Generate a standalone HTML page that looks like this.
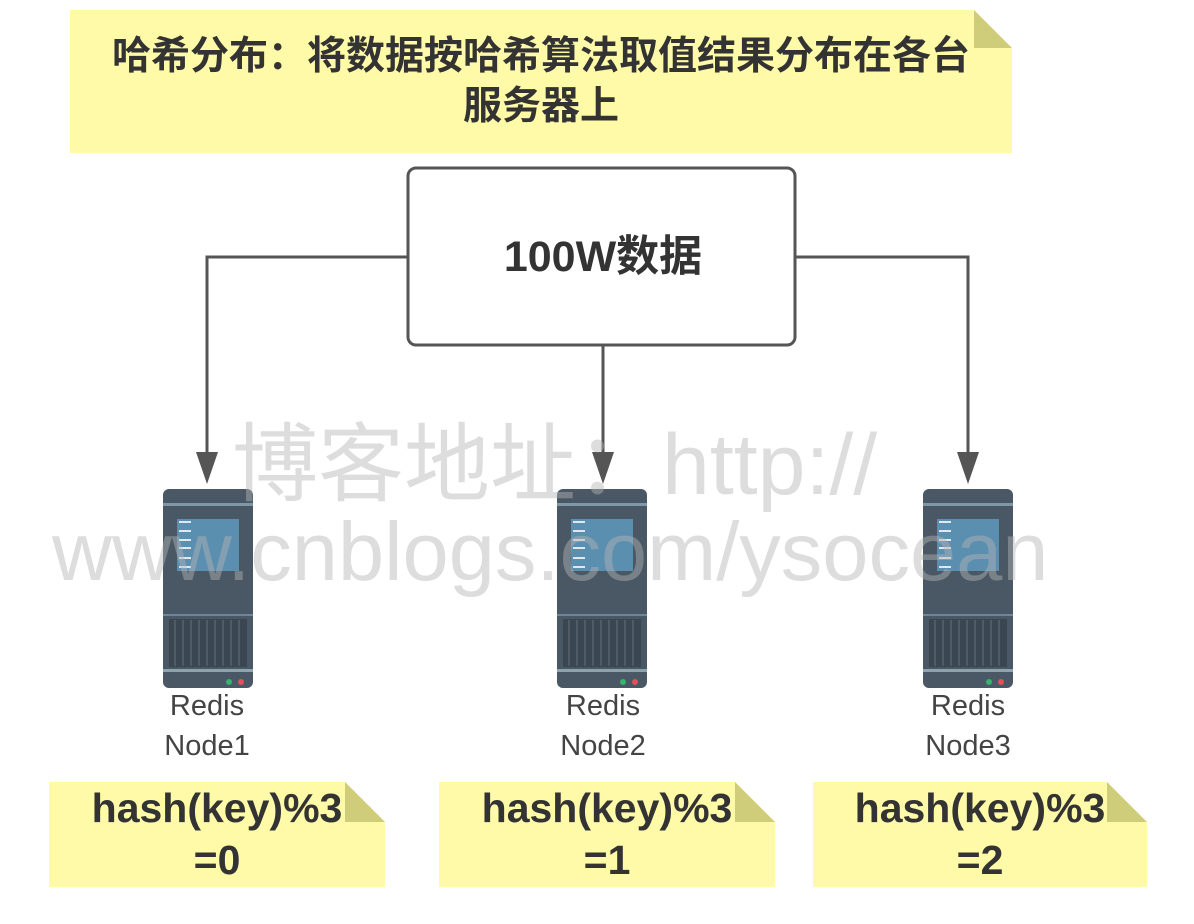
<!DOCTYPE html>
<html><head><meta charset="utf-8"><style>
body{margin:0;width:1194px;height:924px;background:#fff;overflow:hidden;position:relative;font-family:"Liberation Sans","Noto Sans CJK SC",sans-serif}
.t{position:absolute;text-align:center;color:#333}
</style></head><body>
<svg width="1194" height="924" style="position:absolute;left:0;top:0">
<defs>
<g id="srv">
<rect x="0" y="0" width="90" height="199" rx="6" fill="#4a5866"/>
<rect x="0" y="14" width="90" height="3" fill="#7f97a6"/>
<rect x="14" y="30" width="62" height="52" fill="#5b8fb0"/>
<g fill="#dfe8ee"><rect x="16" y="32" width="12" height="2"/><rect x="16" y="41" width="12" height="2"/><rect x="16" y="50" width="12" height="2"/><rect x="16" y="58" width="12" height="2"/><rect x="16" y="68" width="12" height="2"/><rect x="16" y="77" width="12" height="2"/></g>
<rect x="0" y="125" width="90" height="2" fill="#6a8899"/>
<g fill="#3a4650"><rect x="6" y="130" width="78" height="48"/></g>
<g stroke="#56646f" stroke-width="1.5"><path d="M12,131V177M20,131V177M28,131V177M36,131V177M44,131V177M52,131V177M60,131V177M68,131V177M76,131V177"/></g>
<rect x="0" y="180" width="90" height="3" fill="#8fa3ae"/>
<circle cx="66" cy="193" r="3" fill="#37b36b"/><circle cx="78" cy="193" r="3" fill="#e0505a"/>
</g>
</defs>
<path d="M70,10 H974 L1012,48 V153 H70 Z" fill="#fffaa8"/>
<path d="M974,10 L1012,48 H974 Z" fill="#cfcc7a"/>
<g>
<path d="M49,782 H345 L385,822 V887 H49 Z" fill="#fffaa8"/><path d="M345,782 L385,822 H345 Z" fill="#cfcc7a"/>
<path d="M439,782 H735 L775,822 V887 H439 Z" fill="#fffaa8"/><path d="M735,782 L775,822 H735 Z" fill="#cfcc7a"/>
<path d="M813,782 H1107 L1147,822 V887 H813 Z" fill="#fffaa8"/><path d="M1107,782 L1147,822 H1107 Z" fill="#cfcc7a"/>
</g>
<rect x="408" y="168" width="387" height="177" rx="8" fill="#fff" stroke="#555" stroke-width="3"/>
<g stroke="#555" stroke-width="3" fill="none">
<path d="M407,257 H207 V460"/>
<path d="M603,346 V460"/>
<path d="M796,257 H968 V460"/>
</g>
<g fill="#555">
<path d="M196,452 L207,484 L218,452 Z"/>
<path d="M592,452 L603,484 L614,452 Z"/>
<path d="M957,452 L968,484 L979,452 Z"/>
</g>
<use href="#srv" x="163" y="489"/>
<use href="#srv" x="557" y="489"/>
<use href="#srv" x="923" y="489"/>
</svg>
<div class="t" style="left:70px;top:32px;width:942px;font-size:39px;font-weight:bold;line-height:50px">哈希分布：将数据按哈希算法取值结果分布在各台<br>服务器上</div>
<div class="t" style="left:408px;top:230px;width:390px;font-size:43px;font-weight:bold;line-height:54px">100W数据</div>
<div class="t" style="left:107px;top:686px;width:200px;font-size:29px;line-height:40px;color:#444">Redis<br>Node1</div>
<div class="t" style="left:503px;top:686px;width:200px;font-size:29px;line-height:40px;color:#444">Redis<br>Node2</div>
<div class="t" style="left:868px;top:686px;width:200px;font-size:29px;line-height:40px;color:#444">Redis<br>Node3</div>
<div class="t" style="left:49px;top:782px;width:336px;font-size:41px;font-weight:bold;line-height:52px">hash(key)%3<br>=0</div>
<div class="t" style="left:439px;top:782px;width:336px;font-size:41px;font-weight:bold;line-height:52px">hash(key)%3<br>=1</div>
<div class="t" style="left:813px;top:782px;width:334px;font-size:41px;font-weight:bold;line-height:52px">hash(key)%3<br>=2</div>
<div style="position:absolute;left:232px;top:394px;font-size:86px;color:rgba(180,180,180,0.45);white-space:nowrap">博客地址：http://</div>
<div style="position:absolute;left:52px;top:504px;font-size:83px;color:rgba(180,180,180,0.45);white-space:nowrap">www.cnblogs.com/ysocean</div>
</body></html>
